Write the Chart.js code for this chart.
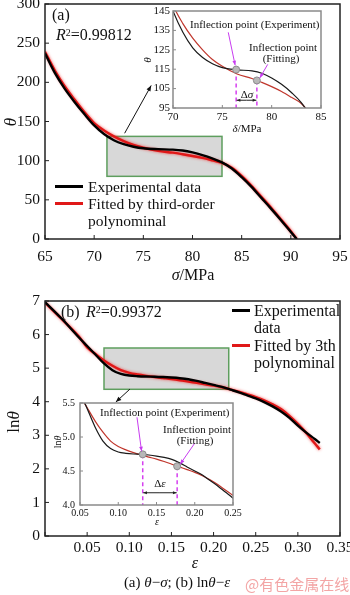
<!DOCTYPE html>
<html><head><meta charset="utf-8">
<script src="https://cdn.jsdelivr.net/npm/chart.js@4.4.0/dist/chart.umd.min.js"></script>
<style>
html,body{margin:0;padding:0;background:#fff;}
#root{position:relative;width:350px;height:595px;overflow:hidden;font-family:"Liberation Serif","Times New Roman",serif;color:#111;}
canvas{position:absolute;}
.t{position:absolute;white-space:nowrap;line-height:1;}
.c{transform:translate(-50%,-50%);}
.l{transform:translate(0,-50%);}
.r90{transform:translate(-50%,-50%) rotate(-90deg);}
.sup{font-size:0.62em;position:relative;top:-0.45em;}
.leg{position:absolute;height:3px;}
</style></head>
<body><div id="root">
<canvas id="ca" width="350" height="290" style="left:0;top:0"></canvas>
<canvas id="cai" width="220" height="140" style="left:130px;top:0"></canvas>
<canvas id="cb" width="350" height="305" style="left:0;top:290px"></canvas>
<canvas id="cbi" width="230" height="140" style="left:40px;top:395px"></canvas>

<div class="t l" style="left:52px;top:15px;font-size:16px">(a)</div>
<div class="t l" style="left:56px;top:35px;font-size:16px"><i>R</i><span class="sup">2</span>=0.99812</div>
<div class="t r90" style="left:10px;top:122px;font-size:17px"><i>θ</i></div>
<div class="t c" style="left:193px;top:275px;font-size:16px"><i>σ</i>/MPa</div>
<div class="leg" style="left:55px;top:185px;width:28px;background:#000"></div>
<div class="leg" style="left:55px;top:202px;width:28px;background:#e01818"></div>
<div class="t l" style="left:88px;top:187px;font-size:15.5px">Experimental data</div>
<div class="t l" style="left:88px;top:204px;font-size:15.5px">Fitted by third-order</div>
<div class="t l" style="left:88px;top:221px;font-size:15.5px">polynominal</div>

<div class="t r90" style="left:147px;top:60px;font-size:11px"><i>θ</i></div>
<div class="t c" style="left:247px;top:128px;font-size:11px"><i>δ</i>/MPa</div>
<div class="t l" style="left:190px;top:24px;font-size:11px">Inflection point (Experiment)</div>
<div class="t l" style="left:249px;top:47px;font-size:11px">Inflection point</div>
<div class="t c" style="left:281px;top:58px;font-size:11px">(Fitting)</div>
<div class="t c" style="left:247px;top:94px;font-size:11px">Δ<i>σ</i></div>

<div class="t l" style="left:61px;top:312px;font-size:16px">(b)</div>
<div class="t l" style="left:86px;top:312px;font-size:16px"><i>R</i><span class="sup">2</span>=0.99372</div>
<div class="leg" style="left:232px;top:309px;width:18px;background:#000"></div>
<div class="leg" style="left:232px;top:344px;width:18px;background:#e01818"></div>
<div class="t l" style="left:254px;top:311px;font-size:16px">Experimental</div>
<div class="t l" style="left:254px;top:328px;font-size:16px">data</div>
<div class="t l" style="left:254px;top:346px;font-size:16px">Fitted by 3th</div>
<div class="t l" style="left:254px;top:363px;font-size:16px">polynominal</div>
<div class="t r90" style="left:13px;top:422px;font-size:17px">ln<i>θ</i></div>
<div class="t c" style="left:195px;top:563px;font-size:16px"><i>ε</i></div>
<div class="t c" style="left:177px;top:582px;font-size:15px">(a) <i>θ</i>−<i>σ</i>; (b) ln<i>θ</i>−<i>ε</i></div>
<div class="t l" style="left:245px;top:583px;font-size:15px;font-family:'Noto Sans CJK SC',sans-serif;color:#f3a5a5">@有色金属在线</div>

<div class="t r90" style="left:58px;top:442px;font-size:10px">ln<i>θ</i></div>
<div class="t c" style="left:157px;top:522px;font-size:10px"><i>ε</i></div>
<div class="t l" style="left:100px;top:412px;font-size:11px">Inflection point (Experiment)</div>
<div class="t l" style="left:163px;top:429px;font-size:11px">Inflection point</div>
<div class="t c" style="left:195px;top:440px;font-size:11px">(Fitting)</div>
<div class="t c" style="left:160px;top:483px;font-size:11px">Δ<i>ε</i></div>
</div>
<script>
// ---------- data (a) ----------
const sigma    = [65,66,67,68,69,70,71,72,73,74,75,76.5,78,79,80,81,82,83,84,85,86,87,88,89,90,90.6];
const thetaExp = [237,212,192,175,159.5,145,134,126,121,117.8,115.8,114.7,114.1,112.9,110.5,107.2,103,97.8,90,79,66.5,52.5,38.5,24,9,0];
const thetaFit = [239,215,195,178,162,148,138.5,131,125,120,116.5,112.5,110.2,108.2,106,103.5,100.5,97.3,91,80.5,68,54,40,25,10,0];
const inflectA = [[76.4,114.8],[78.5,109.2]];      // experiment, fitting
const zoomBoxA = [71.3,83,80,131];                 // xmin,xmax,ymin,ymax
const pointerA = [[73.1,135],[75.8,196]];          // arrow from box to inset
const labelArrowsA = [[[75.6,134],[76.3,117]],[[79.6,117.5],[78.8,110.5]]];
const deltaA = [76.4,78.5,99];
// ---------- data (b) ----------
const eps    = [0,0.02,0.04,0.05,0.06,0.07,0.08,0.09,0.10,0.11,0.12,0.13,0.14,0.15,0.16,0.17,0.18,0.19,0.20,0.21,0.22,0.23,0.24,0.25,0.26,0.27,0.28,0.29,0.30,0.31,0.32,0.326];
const lnExp  = [6.97,6.47,5.92,5.66,5.40,5.14,4.94,4.83,4.78,4.76,4.75,4.745,4.735,4.72,4.70,4.67,4.62,4.56,4.50,4.44,4.36,4.28,4.19,4.10,3.99,3.86,3.71,3.52,3.29,3.08,2.89,2.77];
const lnFit  = [6.95,6.46,5.95,5.62,5.42,5.23,5.07,4.94,4.86,4.81,4.77,4.735,4.705,4.675,4.64,4.60,4.56,4.52,4.48,4.43,4.37,4.30,4.22,4.14,4.04,3.92,3.78,3.58,3.34,3.07,2.76,2.58];
const inflectB = [[0.132,4.745],[0.177,4.57]];
const zoomBoxB = [0.070,0.218,4.37,5.6];
const pointerB = [[0.1007,4.375],[0.084,3.99]];
const labelArrowsB = [[[0.1245,5.29],[0.1305,4.79]],[[0.2,4.91],[0.181,4.60]]];
const deltaB = [0.132,0.177,4.18];

const SERIF = '"Liberation Serif","Times New Roman",serif';

function arrow(ctx,x0,y0,x1,y1,head,color,width){
  ctx.save();
  ctx.strokeStyle=color; ctx.fillStyle=color; ctx.lineWidth=width; ctx.setLineDash([]);
  ctx.beginPath(); ctx.moveTo(x0,y0); ctx.lineTo(x1,y1); ctx.stroke();
  const a=Math.atan2(y1-y0,x1-x0);
  ctx.beginPath(); ctx.moveTo(x1,y1);
  ctx.lineTo(x1-head*Math.cos(a-0.38), y1-head*Math.sin(a-0.38));
  ctx.lineTo(x1-head*Math.cos(a+0.38), y1-head*Math.sin(a+0.38));
  ctx.closePath(); ctx.fill();
  ctx.restore();
}

const deco = {
  id:'deco',
  beforeDraw(chart,args,o){
    if(o.bg){const a=chart.chartArea,ctx=chart.ctx; ctx.save(); ctx.fillStyle=o.bg; ctx.fillRect(a.left,a.top,a.right-a.left,a.bottom-a.top); ctx.restore();}
  },
  beforeDatasetsDraw(chart,args,o){
    const ctx=chart.ctx, xs=chart.scales.x, ys=chart.scales.y, a=chart.chartArea;
    if(o.box){
      const [x0,x1,y0,y1]=o.box;
      const L=xs.getPixelForValue(x0),R=xs.getPixelForValue(x1),T=ys.getPixelForValue(y1),B=ys.getPixelForValue(y0);
      ctx.save(); ctx.fillStyle='#d8d8d8'; ctx.fillRect(L,T,R-L,B-T);
      ctx.strokeStyle='#5e9e5e'; ctx.lineWidth=1.5; ctx.strokeRect(L,T,R-L,B-T); ctx.restore();
    }
    if(o.inflect){
      ctx.save(); ctx.strokeStyle='#d63ff0'; ctx.lineWidth=1.5; ctx.setLineDash([4,3]);
      o.inflect.forEach(p=>{const x=xs.getPixelForValue(p[0]),y=ys.getPixelForValue(p[1]);
        ctx.beginPath(); ctx.moveTo(x,y); ctx.lineTo(x,a.bottom); ctx.stroke();});
      ctx.restore();
    }
    if(o.delta){
      const [d0,d1,dy]=o.delta, x0=xs.getPixelForValue(d0), x1=xs.getPixelForValue(d1), y=ys.getPixelForValue(dy);
      const m=(x0+x1)/2;
      arrow(ctx,m,y,x0+0.5,y,4,'#222',1); arrow(ctx,m,y,x1-0.5,y,4,'#222',1);
    }
  },
  beforeDatasetDraw(chart,args){
    const ds=chart.data.datasets[args.index];
    chart.ctx.save();
    if(ds.glow){chart.ctx.shadowColor=ds.glow; chart.ctx.shadowBlur=3;}
  },
  afterDatasetDraw(chart){ chart.ctx.restore(); },
  afterDraw(chart,args,o){
    const ctx=chart.ctx, xs=chart.scales.x, ys=chart.scales.y, a=chart.chartArea;
    if(o.labelArrows){
      o.labelArrows.forEach(s=>arrow(ctx,xs.getPixelForValue(s[0][0]),ys.getPixelForValue(s[0][1]),
        xs.getPixelForValue(s[1][0]),ys.getPixelForValue(s[1][1]),5,'#c83cf0',1));
    }
    ctx.save();
    ctx.strokeStyle=o.frame; ctx.lineWidth=o.frameW;
    ctx.lineCap='butt';
    ctx.beginPath();
    xs.ticks.forEach(t=>{const x=xs.getPixelForValue(t.value); ctx.moveTo(x,a.bottom); ctx.lineTo(x,a.bottom-o.tick);});
    ys.ticks.forEach(t=>{const y=ys.getPixelForValue(t.value); ctx.moveTo(a.left,y); ctx.lineTo(a.left+o.tick,y);});
    ctx.lineWidth=1; ctx.stroke();
    ctx.lineWidth=o.frameW;
    ctx.strokeRect(a.left,a.top,a.right-a.left,a.bottom-a.top);
    ctx.restore();
    if(o.pointer){
      const p=o.pointer;
      arrow(ctx,xs.getPixelForValue(p[0][0]),ys.getPixelForValue(p[0][1]),xs.getPixelForValue(p[1][0]),ys.getPixelForValue(p[1][1]),6,'#111',1);
    }
  }
};

function opts(c){
  const font={family:SERIF,size:c.fs};
  const noPad=s=>{s.paddingLeft=0;s.paddingRight=0;s.paddingTop=0;s.paddingBottom=0;};
  return {
    responsive:false, animation:false, devicePixelRatio:1,
    layout:{padding:c.pad},
    plugins:{legend:{display:false},tooltip:{enabled:false},deco:c.deco},
    elements:{point:{radius:0}},
    scales:{
      x:{type:'linear',min:c.x[0],max:c.x[1],grid:{display:false,drawTicks:false},border:{display:false},
         ticks:{stepSize:c.x[2],autoSkip:false,maxRotation:0,padding:c.xpad,font,color:'#111',callback:c.xfmt},
         afterFit(s){s.height=c.xh;noPad(s);}},
      y:{type:'linear',min:c.y[0],max:c.y[1],grid:{display:false,drawTicks:false},border:{display:false},
         ticks:{stepSize:c.y[2],autoSkip:false,padding:c.ypad,font,color:'#111',callback:c.yfmt},
         afterFit(s){s.width=c.yw;noPad(s);}}
    }
  };
}
const pts=(xs,ys)=>xs.map((x,i)=>({x,y:ys[i]}));
const line=(d,color,w,glow)=>({data:d,borderColor:color,borderWidth:w,cubicInterpolationMode:'monotone',pointRadius:0,fill:false,glow});
const inflDs=arr=>({data:arr.map(p=>({x:p[0],y:p[1]})),showLine:false,pointRadius:3.5,pointBackgroundColor:'#b8b8b8',pointBorderColor:'#8c8c8c',pointBorderWidth:1});

// main (a)
new Chart(document.getElementById('ca'),{type:'line',plugins:[deco],
  data:{datasets:[line(pts(sigma,thetaExp),'#000',2.4),line(pts(sigma,thetaFit),'#e01818',2.4,'rgba(240,40,40,0.8)')]},
  options:opts({fs:15.5,pad:{top:4,right:10,left:0,bottom:0},x:[65,95,5],y:[0,300,50],xpad:9,ypad:5,xh:51,yw:45,
    xfmt:v=>v,yfmt:v=>v,deco:{frame:'#222',frameW:1.5,tick:4,box:zoomBoxA,pointer:pointerA}})});
// inset (a)
new Chart(document.getElementById('cai'),{type:'line',plugins:[deco],
  data:{datasets:[inflDs(inflectA),line(pts(sigma,thetaExp),'#1a1a1a',1.2),line(pts(sigma,thetaFit),'#c0362c',1.2)]},
  options:opts({fs:11,pad:{top:11,right:29,left:0,bottom:0},x:[70,85,5],y:[95,145,10],xpad:2.5,ypad:3,xh:32,yw:43,
    xfmt:v=>v,yfmt:v=>v,deco:{bg:'#fff',frame:'#8a8a8a',frameW:1.5,tick:3,inflect:inflectA,delta:deltaA,labelArrows:labelArrowsA}})});
// main (b)
new Chart(document.getElementById('cb'),{type:'line',plugins:[deco],
  data:{datasets:[line(pts(eps,lnExp),'#000',2.4),line(pts(eps,lnFit),'#e01818',2.4,'rgba(240,40,40,0.8)')]},
  options:opts({fs:15.5,pad:{top:11,right:10,left:0,bottom:0},x:[0,0.35,0.05],y:[0,7,1],xpad:3,ypad:5,xh:59,yw:45,
    xfmt:v=>v===0?'':v.toFixed(2),yfmt:v=>v,deco:{frame:'#222',frameW:1.5,tick:4,box:zoomBoxB,pointer:pointerB}})});
// inset (b)
new Chart(document.getElementById('cbi'),{type:'line',plugins:[deco],
  data:{datasets:[inflDs(inflectB),line(pts(eps,lnExp),'#1a1a1a',1.2),line(pts(eps,lnFit),'#c0362c',1.2)]},
  options:opts({fs:10,pad:{top:8,right:37,left:0,bottom:0},x:[0.05,0.25,0.05],y:[4.0,5.5,0.5],xpad:2,ypad:5,xh:30,yw:40,
    xfmt:v=>v.toFixed(2),yfmt:v=>v.toFixed(1),deco:{bg:'#fff',frame:'#8a8a8a',frameW:1.5,tick:3,inflect:inflectB,delta:deltaB,labelArrows:labelArrowsB}})});
</script>
</body></html>
